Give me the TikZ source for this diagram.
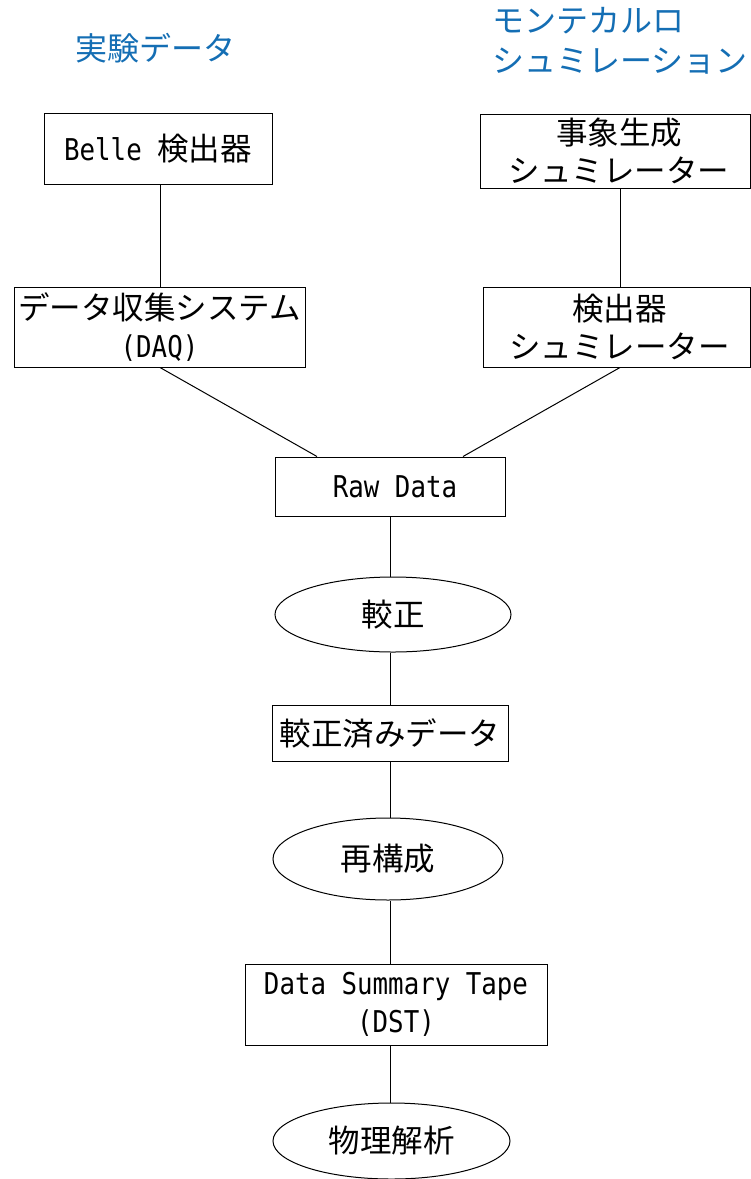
\documentclass[tikz,border=0pt]{standalone}
\usepackage{fontspec}
\setmainfont{Noto Sans CJK JP}
\newfontfamily\mono[FakeStretch=0.86]{DejaVu Sans Mono}
\usetikzlibrary{shapes.geometric}
\definecolor{headblue}{RGB}{20,110,180}
\newcommand\lat[1]{{\mono\fontsize{30}{38}\selectfont #1}}
\begin{document}
\begin{tikzpicture}[x=1pt,y=-1pt,
  box/.style={draw, line width=1pt, inner sep=0pt, align=center, font=\fontsize{31.5}{38}\selectfont},
  oval/.style={draw, ellipse, line width=1pt, inner sep=0pt, font=\fontsize{31.5}{38}\selectfont},
  link/.style={line width=1pt},
  head/.style={text=headblue, font=\fontsize{32}{40}\selectfont, align=left, inner sep=0pt}]
\useasboundingbox (0,0) rectangle (751,1179);

\node[head] (hexp) at (155,48) {実験データ};
\node[head, anchor=west] (hmc) at (492,41) {モンテカルロ\\シュミレーション};

\node[box, minimum width=228, minimum height=71] (belle) at (158,148.5) {\lat{Belle }検出器};
\node[box, minimum width=270, minimum height=74] (gen) at (615,151) {\hspace*{8pt}事象生成\\\hspace*{8pt}シュミレーター};
\node[box, minimum width=291, minimum height=80] (daq) at (159.5,327) {データ収集システム\\\lat{(DAQ)}};
\node[box, minimum width=267, minimum height=80] (detsim) at (616.5,327) {\hspace*{6pt}検出器\\\hspace*{6pt}シュミレーター};
\node[box, minimum width=230, minimum height=59] (raw) at (390,486.5) {\hspace*{10pt}\lat{Raw Data}};
\node[oval, minimum width=236, minimum height=75] (kosei) at (393,614.5) {較正};
\node[box, minimum width=236, minimum height=56] (kosumi) at (390,733) {較正済みデータ};
\node[oval, minimum width=230, minimum height=82] (reco) at (388,859) {再構成};
\node[box, minimum width=302, minimum height=81] (dst) at (396,1004.5) {\lat{Data Summary Tape}\\\lat{(DST)}};
\node[oval, minimum width=237, minimum height=76] (ana) at (391.5,1141) {物理解析};

\coordinate (axis) at (390,0);
\coordinate (lax) at (160,0);
\coordinate (rax) at (620,0);

\draw[link] (lax |- belle.south) -- (lax |- daq.north);
\draw[link] (rax |- gen.south) -- (rax |- detsim.north);
\draw[link] (lax |- daq.south) -- ([xshift=-73pt]raw.north);
\draw[link] (rax |- detsim.south) -- ([xshift=73pt]raw.north);
\draw[link] (axis |- raw.south) -- (axis |- kosei.north);
\draw[link] (axis |- kosei.south) -- (axis |- kosumi.north);
\draw[link] (axis |- kosumi.south) -- (axis |- reco.north);
\draw[link] (axis |- reco.south) -- (axis |- dst.north);
\draw[link] (axis |- dst.south) -- (axis |- ana.north);
\end{tikzpicture}
\end{document}
